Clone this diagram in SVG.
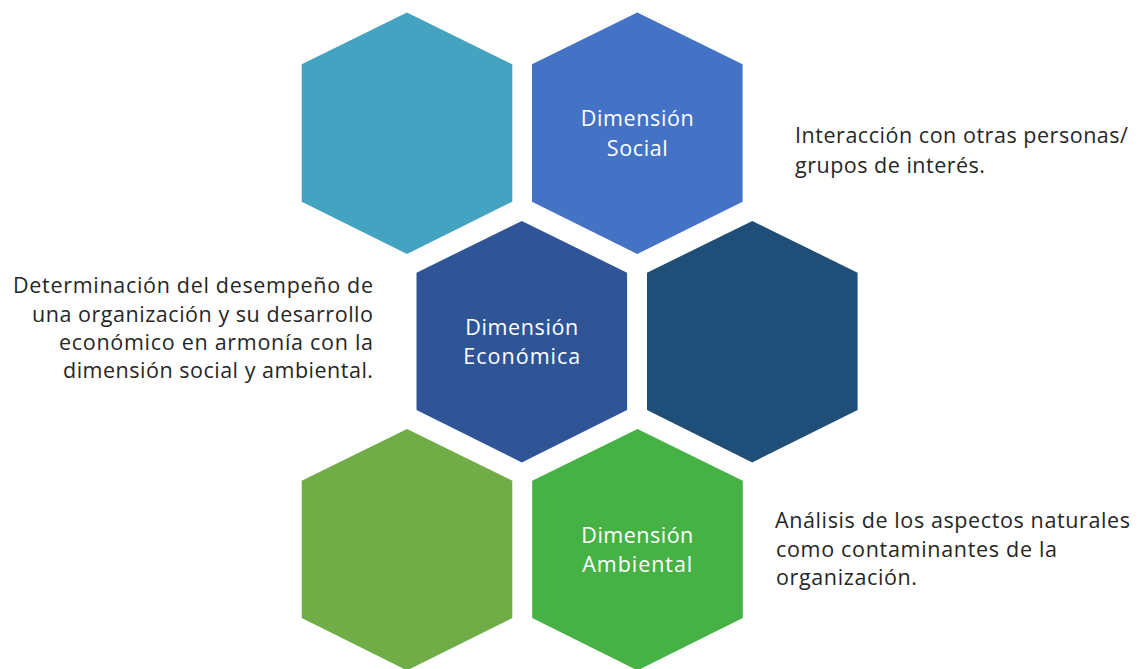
<svg xmlns="http://www.w3.org/2000/svg" width="1139" height="669" viewBox="0 0 1139 669">
<style>
.lbl{font-family:"Open Sans","Noto Sans","Liberation Sans",sans-serif;font-size:21.5px;fill:#ffffff;text-anchor:middle}
.desc{font-family:"Open Sans","Noto Sans","Liberation Sans",sans-serif;font-size:21.5px;fill:#262626}
</style>
<defs>
<path id="hex" d="M0,-120.7 L105.3,-69 L105.3,68.4 L0,120.7 L-105.3,68.4 L-105.3,-69 Z"/>
</defs>
<rect width="1139" height="669" fill="#ffffff"/>
<g id="hex-teal"><use href="#hex" x="407" y="133.3" fill="#44A3C1"/></g>
<g id="hex-social"><use href="#hex" x="637.3" y="133.3" fill="#4472C4"/>
<text class="lbl" x="637.3" y="126" textLength="113" lengthAdjust="spacing">Dimensión</text>
<text class="lbl" x="637.3" y="156" textLength="61" lengthAdjust="spacing">Social</text></g>
<g id="hex-economica"><use href="#hex" x="521.8" y="341.7" fill="#2F5597"/>
<text class="lbl" x="521.8" y="335.3" textLength="113" lengthAdjust="spacing">Dimensión</text>
<text class="lbl" x="521.8" y="363.7" textLength="117" lengthAdjust="spacing">Económica</text></g>
<g id="hex-navy"><use href="#hex" x="752.3" y="341.7" fill="#1F4E79"/></g>
<g id="hex-green"><use href="#hex" x="407" y="549.7" fill="#70AD47"/></g>
<g id="hex-ambiental"><use href="#hex" x="637.5" y="549.7" fill="#46B246"/>
<text class="lbl" x="637.3" y="543.3" textLength="112" lengthAdjust="spacing">Dimensión</text>
<text class="lbl" x="637.3" y="572" textLength="110" lengthAdjust="spacing">Ambiental</text></g>
<g id="desc-social">
<text class="desc" x="795" y="143.3" textLength="333" lengthAdjust="spacing">Interacción con otras personas/</text>
<text class="desc" x="795" y="173.3" textLength="190" lengthAdjust="spacing">grupos de interés.</text>
</g>
<g id="desc-economica" text-anchor="end">
<text class="desc" x="373" y="293.3" textLength="360" lengthAdjust="spacing">Determinación del desempeño de</text>
<text class="desc" x="373" y="321.7" textLength="341" lengthAdjust="spacing">una organización y su desarrollo</text>
<text class="desc" x="373" y="350" textLength="314" lengthAdjust="spacing">económico en armonía con la</text>
<text class="desc" x="373" y="378.3" textLength="310" lengthAdjust="spacing">dimensión social y ambiental.</text>
</g>
<g id="desc-ambiental">
<text class="desc" x="775" y="528.3" textLength="355" lengthAdjust="spacing">Análisis de los aspectos naturales</text>
<text class="desc" x="776" y="556.7" textLength="281" lengthAdjust="spacing">como contaminantes de la</text>
<text class="desc" x="776" y="585" textLength="141" lengthAdjust="spacing">organización.</text>
</g>
<g id="connectors"></g>
</svg>
